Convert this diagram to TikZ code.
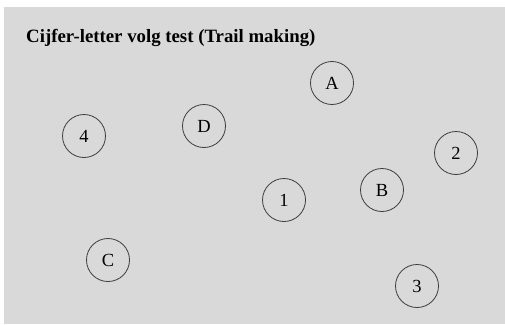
\documentclass[tikz,border=0pt]{standalone}
\usepackage{fontspec}
\setmainfont{Liberation Serif}
\usepackage{xcolor}
\usepackage{tikz}
\usetikzlibrary{positioning}

\definecolor{panelgray}{RGB}{217,217,217}
\definecolor{ringgray}{RGB}{60,60,60}

\begin{document}
\begin{tikzpicture}[x=1pt, y=-1pt,
    spot/.style={draw=ringgray, line width=0.8pt, circle, minimum size=43pt, inner sep=0pt, font=\fontsize{18.5}{22}\selectfont}]
    % canvas
    \useasboundingbox (0,0) rectangle (505,324);
    \fill[white] (0,0) rectangle (505,324);
    \fill[panelgray] (4,7) rectangle (505,324);

    % Title
    \node[anchor=base west, inner sep=0pt, font=\fontsize{18.8}{22}\selectfont\bfseries] (title) at (26,42) {Cijfer-letter volg test (Trail making)};

    % Numbers
    \node[spot] (n1) at (284,200) {1};
    \node[spot] (n2) at (456,153) {2};
    \node[spot] (n3) at (417,286) {3};
    \node[spot] (n4) at (84,136) {4};

    % Letters
    \node[spot] (la) at (332,83) {A};
    \node[spot] (lb) at (382,190) {B};
    \node[spot] (lc) at (108,260) {C};
    \node[spot] (ld) at (204,126) {D};
\end{tikzpicture}
\end{document}
